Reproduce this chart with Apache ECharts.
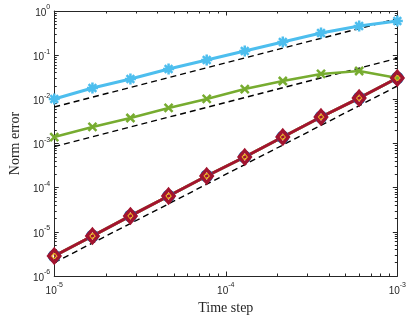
<!DOCTYPE html>
<html>
<head>
<meta charset="utf-8">
<script src="https://cdn.jsdelivr.net/npm/echarts@6/dist/echarts.min.js"></script>
<style>
  html, body { margin: 0; padding: 0; background: #fff; }
  #chart { width: 409px; height: 323px; }
</style>
</head>
<body>
<div id="chart"></div>
<script>
// Time steps shared by all error curves
const timeSteps = [1.00e-5, 1.67e-5, 2.78e-5, 4.64e-5, 7.74e-5, 1.29e-4, 2.15e-4, 3.59e-4, 5.99e-4, 1.00e-3];
// Norm errors per scheme
const errFirst  = [1.02e-2, 1.81e-2, 2.89e-2, 4.86e-2, 7.78e-2, 0.124, 0.199, 0.318, 0.457, 0.594];
const errMixed  = [1.40e-3, 2.37e-3, 3.78e-3, 6.37e-3, 1.02e-2, 1.71e-2, 2.60e-2, 3.75e-2, 4.38e-2, 3.04e-2];
const errSecond = [2.84e-6, 8.05e-6, 2.29e-5, 6.48e-5, 1.84e-4, 4.95e-4, 1.40e-3, 3.98e-3, 1.07e-2, 3.04e-2];
// Reference slopes (dashed)
const refSteps = [1e-5, 1e-3];
const refFirstA = [6.7e-3, 0.67];
const refFirstB = [8.5e-4, 8.5e-2];
const refSecond = [2.0e-6, 2.0e-2];
// Tick values
const xTicks = [1e-5, 1e-4, 1e-3];
const yTicks = [1e-6, 1e-5, 1e-4, 1e-3, 1e-2, 1e-1, 1e0];

function minorTicks(majors) {
  const out = [];
  for (let i = 0; i < majors.length - 1; i++) {
    for (let m = 2; m <= 9; m++) out.push(majors[i] * m);
  }
  return out;
}
const xMinor = minorTicks(xTicks);
const yMinor = minorTicks(yTicks);

const ink = '#262626';
const pow10 = v => {
  const e = Math.round(Math.log10(v));
  return '{b|10}{e|' + e + '}';
};
const rich = {
  b: { fontFamily: 'Liberation Sans', fontSize: 10, color: ink, verticalAlign: 'bottom', lineHeight: 14 },
  e: { fontFamily: 'Liberation Sans', fontSize: 7, color: ink, verticalAlign: 'top', lineHeight: 14 }
};

function axis(kind, position, ticks, isMajor, extra) {
  const min = kind === 'x' ? 1e-5 : 1e-6;
  const max = kind === 'x' ? 1e-3 : 1e0;
  const primary = isMajor && (position === 'bottom' || position === 'left');
  return Object.assign({
    type: 'log', logBase: 10, min: min, max: max, position: position,
    axisLine: { show: isMajor, onZero: false, lineStyle: { color: ink, width: 1 } },
    axisTick: { show: true, inside: true, length: isMajor ? 4.5 : 2.5, customValues: ticks,
                lineStyle: { color: ink, width: 1 } },
    axisLabel: primary
      ? { show: true, customValues: ticks, formatter: pow10, rich: rich, margin: kind === 'x' ? 6 : 4 }
      : { show: false },
    splitLine: { show: false },
    minorTick: { show: false }
  }, extra || {});
}

const xName = {
  name: 'Time step', nameLocation: 'middle', nameGap: 25,
  nameTextStyle: { fontFamily: 'Liberation Serif', fontSize: 14, color: ink }
};
const yName = {
  name: 'Norm error', nameLocation: 'middle', nameGap: 28,
  nameTextStyle: { fontFamily: 'Liberation Serif', fontSize: 14, color: ink }
};

const pairs = ys => timeSteps.map((t, i) => [t, ys[i]]);
const refPairs = ys => refSteps.map((t, i) => [t, ys[i]]);

function refLine(ys) {
  return {
    type: 'line', data: refPairs(ys), symbol: 'none', z: 1,
    lineStyle: { color: '#000', width: 1.4, type: [6, 4] }
  };
}

const chart = echarts.init(document.getElementById('chart'), null, { renderer: 'canvas' });
chart.setOption({
  animation: false,
  backgroundColor: '#fff',
  grid: { left: 54, right: 9, top: 11, bottom: 47, containLabel: false },
  xAxis: [
    axis('x', 'bottom', xTicks, true, xName),
    axis('x', 'bottom', xMinor, false),
    axis('x', 'top', xTicks, true),
    axis('x', 'top', xMinor, false)
  ],
  yAxis: [
    axis('y', 'left', yTicks, true, yName),
    axis('y', 'left', yMinor, false),
    axis('y', 'right', yTicks, true),
    axis('y', 'right', yMinor, false)
  ],
  series: [
    refLine(refFirstA),
    refLine(refFirstB),
    refLine(refSecond),
    {
      type: 'line', data: pairs(errFirst), z: 3,
      lineStyle: { color: '#4dbeee', width: 3 },
      symbol: 'path://M5,0L5,10M0,5L10,5M1.5,1.5L8.5,8.5M1.5,8.5L8.5,1.5', symbolSize: 11,
      itemStyle: { color: 'rgba(0,0,0,0)', borderColor: '#4dbeee', borderWidth: 2.5 }
    },
    {
      type: 'line', data: pairs(errMixed), z: 3,
      lineStyle: { color: '#77ac30', width: 2.5 },
      symbol: 'path://M0,0L10,10M0,10L10,0', symbolSize: 8,
      itemStyle: { color: 'rgba(0,0,0,0)', borderColor: '#77ac30', borderWidth: 2.5 }
    },
    {
      type: 'line', data: pairs(errSecond), z: 3,
      lineStyle: { color: '#0072bd', width: 3 },
      symbol: 'circle', symbolSize: 11,
      itemStyle: { color: 'rgba(0,0,0,0)', borderColor: '#0072bd', borderWidth: 2 }
    },
    {
      type: 'line', data: pairs(errSecond), z: 3,
      lineStyle: { color: '#edb120', width: 3 },
      symbol: 'circle', symbolSize: 5,
      itemStyle: { color: 'rgba(0,0,0,0)', borderColor: '#edb120', borderWidth: 1.5 }
    },
    {
      type: 'line', data: pairs(errSecond), z: 3,
      lineStyle: { color: '#a2142f', width: 3 },
      symbol: 'diamond', symbolSize: [11, 13],
      itemStyle: { color: 'rgba(0,0,0,0)', borderColor: '#a2142f', borderWidth: 3.5 }
    }
  ]
});
</script>
</body>
</html>
